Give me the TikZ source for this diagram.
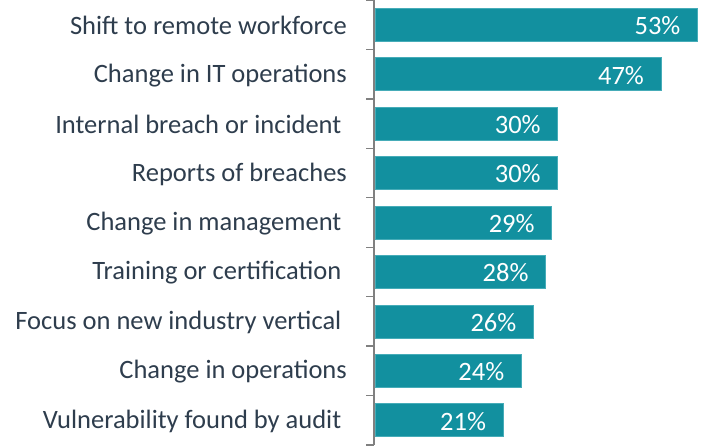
\documentclass[tikz,border=0pt]{standalone}
\usepackage{fontspec}
\setmainfont{Carlito}
\usepackage{xcolor}
\definecolor{bar fill}{RGB}{18,144,159}
\definecolor{bar edge}{RGB}{70,172,184}
\definecolor{label text}{RGB}{46,61,77}
\colorlet{axis line}{black!50}
\def\rowgap{49.44}
\def\pxper{6.075}
\def\tsp{\kern5.5pt}
\tikzset{bar/.style={fill=bar fill, draw=bar edge, line width=0.6pt, minimum height=33pt,
        inner sep=0pt, anchor=west},
    cat/.style={anchor=east, text=label text, font=\fontsize{26.5}{26.5}\selectfont, inner sep=0pt},
    val/.style={anchor=east, text=white, font=\fontsize{26.5}{26.5}\selectfont, inner sep=0pt}}

\begin{document}
\begin{tikzpicture}[x=1pt,y=1pt]
    \useasboundingbox (0,0) rectangle (704,445);
    % category axis
    \draw[axis line, line width=1.4pt] (374,0) -- (374,445);
    \foreach \k in {0,...,9}
        \draw[axis line, line width=1.4pt] (366,\k*\rowgap) -- (374,\k*\rowgap);
    % bars with labels
    \foreach \lab/\val [count=\k] in {Shift to remote workforce/53,
            Change in IT operations/47, Internal breach or incident\tsp/30,
            Reports of breaches/30, Change in management\tsp/29,
            Training or certification\tsp/28, Focus on new industry vertical\tsp/26,
            Change in operations/24, Vulnerability found by audit\tsp/21}
    {
        \pgfmathsetmacro{\y}{445-(\k-0.5)*\rowgap}
        \node[bar, minimum width=\val*\pxper pt] (bar\k) at (375,\y) {};
        \node[val] (val\k) at ([xshift=-17pt,yshift=-1pt]bar\k.east) {\val\%};
        \node[cat] (cat\k) at (347,\y-1) {\lab};
    }
\end{tikzpicture}
\end{document}
